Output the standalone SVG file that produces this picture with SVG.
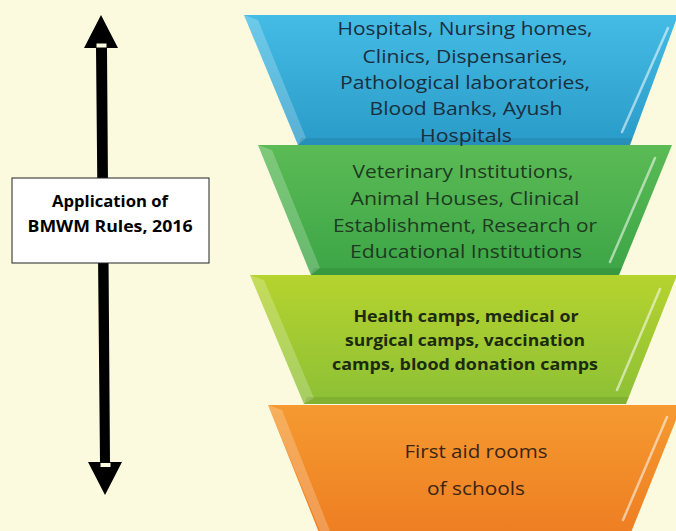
<svg xmlns="http://www.w3.org/2000/svg" width="676" height="531" viewBox="0 0 676 531">
<style>
  .t { font-family: "Open Sans", "Liberation Sans", sans-serif; font-size: 18.5px; text-anchor: middle; }
  .tb { font-family: "Open Sans", "Liberation Sans", sans-serif; font-size: 16.5px; font-weight: bold; text-anchor: middle; }
  .lbl { font-family: "Open Sans", "Liberation Sans", sans-serif; font-size: 16.5px; font-weight: bold; text-anchor: middle; fill: #000; }
  .hl { fill: #ffffff; opacity: 0.22; }
  .rl { stroke: #ffffff; stroke-width: 2.5; opacity: 0.55; stroke-linecap: round; fill: none; }
  .sh { fill: #000000; opacity: 0.08; }
</style>
<defs>
  <linearGradient id="gBlue" x1="0" y1="0" x2="0" y2="1">
    <stop offset="0" stop-color="#44BCE5"/>
    <stop offset="1" stop-color="#2A9BC8"/>
  </linearGradient>
  <linearGradient id="gGreen" x1="0" y1="0" x2="0" y2="1">
    <stop offset="0" stop-color="#5BBB55"/>
    <stop offset="1" stop-color="#3CA546"/>
  </linearGradient>
  <linearGradient id="gLime" x1="0" y1="0" x2="0" y2="1">
    <stop offset="0" stop-color="#B6D32E"/>
    <stop offset="1" stop-color="#8CC036"/>
  </linearGradient>
  <linearGradient id="gOrange" x1="0" y1="0" x2="0" y2="1">
    <stop offset="0" stop-color="#F59A30"/>
    <stop offset="1" stop-color="#EE7E22"/>
  </linearGradient>
</defs>
<rect x="0" y="0" width="676" height="531" fill="#FBFADF"/>

<g id="connectors">
  <polygon points="101,15 118,48 107,48 110,462 122,462 105,495 88,462 100,462 96,48 84,48" fill="#000"/>
  <rect x="96.5" y="43.5" width="10" height="4" fill="#FBFADF"/>
  <rect x="100.5" y="463" width="10" height="4" fill="#FBFADF"/>
</g>

<g id="label-box">
  <rect x="12" y="178" width="197" height="85" fill="#ffffff" stroke="#222" stroke-width="1"/>
  <text class="lbl" x="110" y="207" textLength="116" lengthAdjust="spacingAndGlyphs">Application of</text>
  <text class="lbl" x="110" y="232" textLength="165" lengthAdjust="spacingAndGlyphs">BMWM Rules, 2016</text>
</g>

<g id="tier-orange">
  <polygon points="268,405 682,405 630,535 320,535" fill="url(#gOrange)"/>
  <polygon class="hl" points="268,405 282,410 330,531 320,531"/>
  <line class="rl" x1="667" y1="417" x2="623" y2="520"/>
  <text class="t" x="476" y="458" fill="#3A2414" textLength="143" lengthAdjust="spacingAndGlyphs">First aid rooms</text>
  <text class="t" x="476" y="495" fill="#3A2414" textLength="98" lengthAdjust="spacingAndGlyphs">of schools</text>
</g>

<g id="tier-lime">
  <polygon points="250,275 677,275 626,404 304,404" fill="url(#gLime)"/>
  <polygon class="hl" points="250,275 264,280 314,398 304,404"/>
  <polygon class="sh" points="304,404 626,404 629,397 307,397"/>
  <line class="rl" x1="660" y1="289" x2="617" y2="390"/>
  <text class="tb" x="466" y="322" fill="#1C2A10" textLength="225" lengthAdjust="spacingAndGlyphs">Health camps, medical  or</text>
  <text class="tb" x="465" y="346" fill="#1C2A10" textLength="240" lengthAdjust="spacingAndGlyphs">surgical camps, vaccination</text>
  <text class="tb" x="465" y="370" fill="#1C2A10" textLength="266" lengthAdjust="spacingAndGlyphs">camps, blood donation camps</text>
</g>

<g id="tier-green">
  <polygon points="258,145 672,145 619,275 311,275" fill="url(#gGreen)"/>
  <polygon class="hl" points="258,145 272,150 320,268 311,275"/>
  <polygon class="sh" points="311,275 619,275 622,268 314,268"/>
  <line class="rl" x1="655" y1="158" x2="610" y2="262"/>
  <text class="t" x="463" y="178" fill="#1F3A22" textLength="221" lengthAdjust="spacingAndGlyphs">Veterinary Institutions,</text>
  <text class="t" x="465" y="205" fill="#1F3A22" textLength="229" lengthAdjust="spacingAndGlyphs">Animal Houses, Clinical</text>
  <text class="t" x="465" y="232" fill="#1F3A22" textLength="264" lengthAdjust="spacingAndGlyphs">Establishment, Research or</text>
  <text class="t" x="466" y="258" fill="#1F3A22" textLength="232" lengthAdjust="spacingAndGlyphs">Educational Institutions</text>
</g>

<g id="tier-blue">
  <polygon points="244,15 678,15 630,145 298,145" fill="url(#gBlue)"/>
  <polygon class="hl" points="244,15 258,20 306,138 298,145"/>
  <polygon class="sh" points="298,145 630,145 633,138 301,138"/>
  <line class="rl" x1="668" y1="28" x2="622" y2="132"/>
  <text class="t" x="465" y="35" fill="#1B2E3C" textLength="255" lengthAdjust="spacingAndGlyphs">Hospitals, Nursing homes,</text>
  <text class="t" x="465" y="63" fill="#1B2E3C" textLength="205" lengthAdjust="spacingAndGlyphs">Clinics, Dispensaries,</text>
  <text class="t" x="465" y="89" fill="#1B2E3C" textLength="250" lengthAdjust="spacingAndGlyphs">Pathological laboratories,</text>
  <text class="t" x="466" y="115" fill="#1B2E3C" textLength="193" lengthAdjust="spacingAndGlyphs">Blood Banks, Ayush</text>
  <text class="t" x="466" y="142" fill="#1B2E3C" textLength="92" lengthAdjust="spacingAndGlyphs">Hospitals</text>
</g>
</svg>
